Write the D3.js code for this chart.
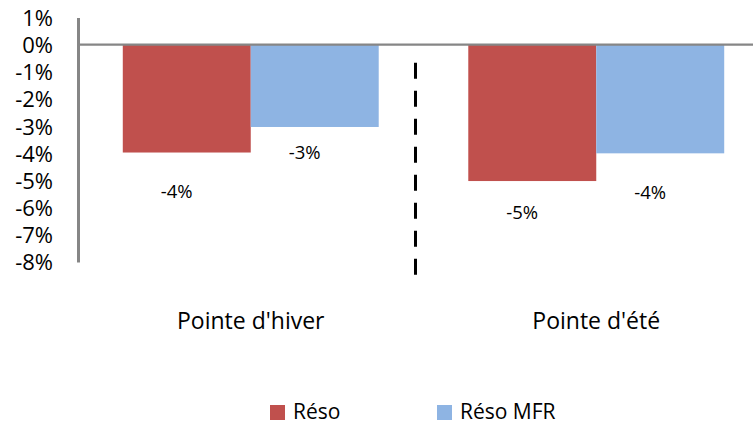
<!DOCTYPE html>
<html>
<head>
<meta charset="utf-8">
<script src="https://cdn.jsdelivr.net/npm/d3@7"></script>
<style>
  body { margin: 0; background: #fff; }
  svg { display: block; font-family: "Open Sans", sans-serif; }
</style>
</head>
<body>
<script>
// data
var categories = ["Pointe d'hiver", "Pointe d'été"];
var seriesNames = ["Réso", "Réso MFR"];
var reso = [-0.0397, -0.0502];
var resoMFR = [-0.0303, -0.0400];
var yTicks = [0.01, 0, -0.01, -0.02, -0.03, -0.04, -0.05, -0.06, -0.07, -0.08];

var colors = ["#C0504D", "#8EB4E3"];
// hand placed label drops (px below bar end), as in the original
var labelDrop = [[45, 32], [38, 46]];

var width = 753, height = 425;
var mLeft = 78, plotRight = 769, mTop = 17.5, mBottom = 262;

var locale = d3.formatLocale({decimal: ".", thousands: ",", grouping: [3], currency: ["", ""], minus: "-"});
var pct = locale.format(".0%");

var svg = d3.select("body").append("svg")
    .attr("width", width)
    .attr("height", height);

var x0 = d3.scaleBand().domain(categories).range([mLeft, plotRight]).paddingInner(0).paddingOuter(0);
var x1 = d3.scaleBand().domain(seriesNames).range([0, x0.bandwidth()]).paddingInner(0).paddingOuter(0.35);
var y = d3.scaleLinear().domain([0.01, -0.08]).range([mTop, mBottom]);

var data = categories.map(function(c, i) {
    return {cat: c, vals: [reso[i], resoMFR[i]]};
});

// bars
var groups = svg.selectAll("g.grp")
    .data(data)
    .enter().append("g")
        .attr("class", "grp")
        .attr("transform", function(d) { return "translate(" + x0(d.cat) + ",0)"; });

groups.selectAll("rect")
    .data(function(d, i) { return d.vals.map(function(v, j) { return {v: v, s: seriesNames[j], j: j, i: i}; }); })
    .enter().append("rect")
        .attr("x", function(d) { return x1(d.s); })
        .attr("y", y(0))
        .attr("width", x1.bandwidth())
        .attr("height", function(d) { return y(d.v) - y(0); })
        .attr("fill", function(d) { return colors[d.j]; });

// data labels
groups.selectAll("text.lbl")
    .data(function(d, i) { return d.vals.map(function(v, j) { return {v: v, s: seriesNames[j], j: j, i: i}; }); })
    .enter().append("text")
        .attr("class", "lbl")
        .attr("x", function(d) { return x1(d.s) + x1.bandwidth() / 2 - 10; })
        .attr("y", function(d) { return y(d.v) + labelDrop[d.i][d.j]; })
        .attr("text-anchor", "middle")
        .attr("font-size", 18.5)
        .attr("fill", "#000")
        .text(function(d) { return pct(d.v); });

// zero line
svg.append("line")
    .attr("x1", mLeft).attr("x2", plotRight)
    .attr("y1", y(0)).attr("y2", y(0))
    .attr("stroke", "#868686")
    .attr("stroke-width", 2.2);

// y axis
var yAxis = svg.append("g")
    .attr("transform", "translate(" + mLeft + ",0)")
    .call(d3.axisLeft(y).tickValues(yTicks).tickSize(0).tickPadding(25).tickFormat(pct));
yAxis.select(".domain").attr("stroke", "#868686").attr("stroke-width", 3);
yAxis.selectAll("text")
    .attr("font-size", 22)
    .attr("font-family", "Open Sans, sans-serif")
    .attr("fill", "#000")
    .attr("dy", "0.36em");

// dashed divider between the two peaks
var divX = x0(categories[1]) - 8;
svg.append("line")
    .attr("x1", divX).attr("x2", divX)
    .attr("y1", 62.7).attr("y2", 275)
    .attr("stroke", "#000")
    .attr("stroke-width", 3)
    .attr("stroke-dasharray", "16,12");

// category labels
svg.selectAll("text.cat")
    .data(categories)
    .enter().append("text")
        .attr("class", "cat")
        .attr("x", function(d) { return x0(d) + x0.bandwidth() / 2; })
        .attr("y", 329)
        .attr("text-anchor", "middle")
        .attr("font-size", 23)
        .attr("fill", "#000")
        .text(function(d) { return d; });

// legend
var legendX = [270, 437];
var legend = svg.selectAll("g.leg")
    .data(seriesNames)
    .enter().append("g")
        .attr("class", "leg")
        .attr("transform", function(d, i) { return "translate(" + legendX[i] + ",405)"; });
legend.append("rect")
    .attr("width", 15).attr("height", 15)
    .attr("fill", function(d, i) { return colors[i]; });
legend.append("text")
    .attr("x", 23).attr("y", 14)
    .attr("font-size", 21)
    .attr("fill", "#000")
    .text(function(d) { return d; });
</script>
</body>
</html>
